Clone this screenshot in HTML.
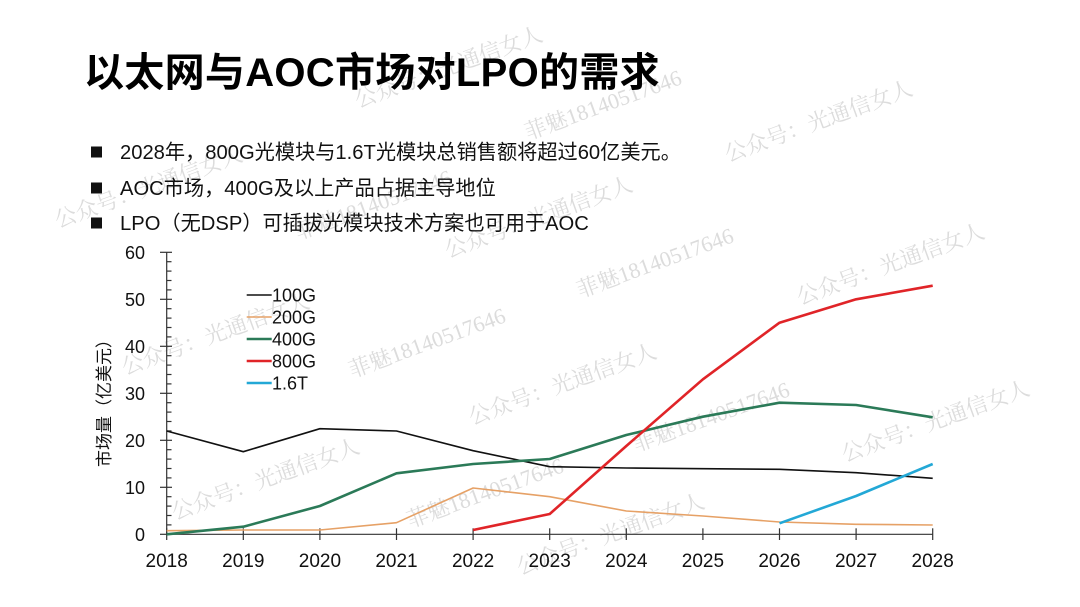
<!DOCTYPE html>
<html>
<head>
<meta charset="utf-8">
<style>
  html, body { margin: 0; padding: 0; background: #ffffff; }
  body { width: 1080px; height: 607px; overflow: hidden; }
  svg { display: block; }
  .wm { font-family: "Liberation Serif", "Noto Serif CJK SC", serif; font-size: 22px; fill: #dcdcdc; }
  .title { font-family: "Liberation Sans", "Noto Sans CJK SC", sans-serif; font-size: 40px; font-weight: 700; fill: #000; letter-spacing: 0.3px; }
  .bul { font-family: "Liberation Sans", "Noto Sans CJK SC", sans-serif; font-size: 20.2px; fill: #111; }
  .yt { font-family: "Liberation Sans", "Noto Sans CJK SC", sans-serif; font-size: 18px; fill: #111; text-anchor: end; }
  .xt { font-family: "Liberation Sans", "Noto Sans CJK SC", sans-serif; font-size: 19px; fill: #111; text-anchor: middle; }
  .lg { font-family: "Liberation Sans", "Noto Sans CJK SC", sans-serif; font-size: 18px; fill: #111; }
  .yl { font-family: "Liberation Sans", "Noto Sans CJK SC", sans-serif; font-size: 17px; fill: #111; text-anchor: middle; }
</style>
</head>
<body>
<svg width="1080" height="607" viewBox="0 0 1080 607" xmlns="http://www.w3.org/2000/svg">
  <rect width="1080" height="607" fill="#ffffff"/>

  <!-- watermarks -->
  <g class="wm">
    <text transform="translate(358,108) rotate(-20)">公众号：光通信女人</text>
    <text transform="translate(528,140) rotate(-20)">菲魅18140517646</text>
    <text transform="translate(728,162) rotate(-20)">公众号：光通信女人</text>
    <text transform="translate(58,228) rotate(-20)">公众号：光通信女人</text>
    <text transform="translate(298,240) rotate(-20)">菲魅18140517646</text>
    <text transform="translate(448,258) rotate(-20)">公众号：光通信女人</text>
    <text transform="translate(580,298) rotate(-20)">菲魅18140517646</text>
    <text transform="translate(800,305) rotate(-20)">公众号：光通信女人</text>
    <text transform="translate(125,375) rotate(-20)">公众号：光通信女人</text>
    <text transform="translate(352,378) rotate(-20)">菲魅18140517646</text>
    <text transform="translate(472,425) rotate(-20)">公众号：光通信女人</text>
    <text transform="translate(636,452) rotate(-20)">菲魅18140517646</text>
    <text transform="translate(845,462) rotate(-20)">公众号：光通信女人</text>
    <text transform="translate(175,520) rotate(-20)">公众号：光通信女人</text>
    <text transform="translate(410,528) rotate(-20)">菲魅18140517646</text>
    <text transform="translate(520,575) rotate(-20)">公众号：光通信女人</text>
  </g>

  <!-- title -->
  <text class="title" x="84" y="86">以太网与AOC市场对LPO的需求</text>

  <!-- bullets -->
  <rect x="91" y="146.5" width="11" height="11" fill="#111"/>
  <text class="bul" x="120" y="159">2028年，800G光模块与1.6T光模块总销售额将超过60亿美元。</text>
  <rect x="91" y="182.5" width="11" height="11" fill="#111"/>
  <text class="bul" x="120" y="195">AOC市场，400G及以上产品占据主导地位</text>
  <rect x="91" y="217.5" width="11" height="11" fill="#111"/>
  <text class="bul" x="120" y="230">LPO（无DSP）可插拔光模块技术方案也可用于AOC</text>

  <!-- axes -->
  <g stroke="#333" stroke-width="1.2" fill="none">
    <line x1="166.7" y1="252.3" x2="166.7" y2="534.3"/>
    <line x1="166.7" y1="534.3" x2="932.7" y2="534.3"/>
    <line x1="160" y1="252.3" x2="172" y2="252.3"/>
    <line x1="160" y1="299.3" x2="172" y2="299.3"/>
    <line x1="160" y1="346.3" x2="172" y2="346.3"/>
    <line x1="160" y1="393.3" x2="172" y2="393.3"/>
    <line x1="160" y1="440.3" x2="172" y2="440.3"/>
    <line x1="160" y1="487.3" x2="172" y2="487.3"/>
    <line x1="160" y1="534.3" x2="172" y2="534.3"/>
    <line x1="166.7" y1="261.7" x2="171.5" y2="261.7"/>
    <line x1="166.7" y1="271.1" x2="171.5" y2="271.1"/>
    <line x1="166.7" y1="280.5" x2="171.5" y2="280.5"/>
    <line x1="166.7" y1="289.9" x2="171.5" y2="289.9"/>
    <line x1="166.7" y1="308.7" x2="171.5" y2="308.7"/>
    <line x1="166.7" y1="318.1" x2="171.5" y2="318.1"/>
    <line x1="166.7" y1="327.5" x2="171.5" y2="327.5"/>
    <line x1="166.7" y1="336.9" x2="171.5" y2="336.9"/>
    <line x1="166.7" y1="355.7" x2="171.5" y2="355.7"/>
    <line x1="166.7" y1="365.1" x2="171.5" y2="365.1"/>
    <line x1="166.7" y1="374.5" x2="171.5" y2="374.5"/>
    <line x1="166.7" y1="383.9" x2="171.5" y2="383.9"/>
    <line x1="166.7" y1="402.7" x2="171.5" y2="402.7"/>
    <line x1="166.7" y1="412.1" x2="171.5" y2="412.1"/>
    <line x1="166.7" y1="421.5" x2="171.5" y2="421.5"/>
    <line x1="166.7" y1="430.9" x2="171.5" y2="430.9"/>
    <line x1="166.7" y1="449.7" x2="171.5" y2="449.7"/>
    <line x1="166.7" y1="459.1" x2="171.5" y2="459.1"/>
    <line x1="166.7" y1="468.5" x2="171.5" y2="468.5"/>
    <line x1="166.7" y1="477.9" x2="171.5" y2="477.9"/>
    <line x1="166.7" y1="496.7" x2="171.5" y2="496.7"/>
    <line x1="166.7" y1="506.1" x2="171.5" y2="506.1"/>
    <line x1="166.7" y1="515.5" x2="171.5" y2="515.5"/>
    <line x1="166.7" y1="524.9" x2="171.5" y2="524.9"/>
    <line x1="166.7" y1="528.3" x2="166.7" y2="540"/>
    <line x1="243.3" y1="528.3" x2="243.3" y2="540"/>
    <line x1="319.9" y1="528.3" x2="319.9" y2="540"/>
    <line x1="396.5" y1="528.3" x2="396.5" y2="540"/>
    <line x1="473.1" y1="528.3" x2="473.1" y2="540"/>
    <line x1="549.7" y1="528.3" x2="549.7" y2="540"/>
    <line x1="626.3" y1="528.3" x2="626.3" y2="540"/>
    <line x1="702.9" y1="528.3" x2="702.9" y2="540"/>
    <line x1="779.5" y1="528.3" x2="779.5" y2="540"/>
    <line x1="856.1" y1="528.3" x2="856.1" y2="540"/>
    <line x1="932.7" y1="528.3" x2="932.7" y2="540"/>
  </g>

  <!-- y tick labels -->
  <text class="yt" x="145" y="258.8">60</text>
  <text class="yt" x="145" y="305.8">50</text>
  <text class="yt" x="145" y="352.8">40</text>
  <text class="yt" x="145" y="399.8">30</text>
  <text class="yt" x="145" y="446.8">20</text>
  <text class="yt" x="145" y="493.8">10</text>
  <text class="yt" x="145" y="540.8">0</text>

  <!-- x tick labels -->
  <text class="xt" x="166.7" y="567">2018</text>
  <text class="xt" x="243.3" y="567">2019</text>
  <text class="xt" x="319.9" y="567">2020</text>
  <text class="xt" x="396.5" y="567">2021</text>
  <text class="xt" x="473.1" y="567">2022</text>
  <text class="xt" x="549.7" y="567">2023</text>
  <text class="xt" x="626.3" y="567">2024</text>
  <text class="xt" x="702.9" y="567">2025</text>
  <text class="xt" x="779.5" y="567">2026</text>
  <text class="xt" x="856.1" y="567">2027</text>
  <text class="xt" x="932.7" y="567">2028</text>

  <!-- y axis label -->
  <text class="yl" transform="translate(110,399) rotate(-90)">市场量（亿美元）</text>

  <!-- series -->
  <g fill="none" stroke-linejoin="round" stroke-linecap="butt">
    <polyline stroke="#e6a166" stroke-width="1.6"
      points="166.7,530.7 243.3,530 319.9,530 396.5,522.7 473.1,488 549.7,496.7 626.3,511 702.9,516 779.5,522 856.1,524.3 932.7,525"/>
    <polyline stroke="#111111" stroke-width="1.6"
      points="166.7,431 243.3,451.7 319.9,428.7 396.5,431 473.1,450.7 549.7,466.7 626.3,468 702.9,468.7 779.5,469.3 856.1,472.7 932.7,478.3"/>
    <polyline stroke="#2b7a58" stroke-width="2.6"
      points="166.7,534.3 243.3,526.7 319.9,506 396.5,473.3 473.1,464 549.7,459 626.3,435 702.9,416.7 779.5,402.7 856.1,405 932.7,417.3"/>
    <polyline stroke="#e02428" stroke-width="2.6"
      points="473.1,530 549.7,514 626.3,446 702.9,379.3 779.5,322.7 856.1,299.3 932.7,285.7"/>
    <polyline stroke="#23a8d6" stroke-width="2.6"
      points="779.5,523.3 856.1,496 932.7,464"/>
  </g>

  <!-- legend -->
  <g>
    <line x1="246.7" y1="295" x2="271.7" y2="295" stroke="#111111" stroke-width="1.6"/>
    <line x1="246.7" y1="317" x2="271.7" y2="317" stroke="#e6a166" stroke-width="1.6"/>
    <line x1="246.7" y1="339" x2="271.7" y2="339" stroke="#2b7a58" stroke-width="2.6"/>
    <line x1="246.7" y1="361" x2="271.7" y2="361" stroke="#e02428" stroke-width="2.6"/>
    <line x1="246.7" y1="383" x2="271.7" y2="383" stroke="#23a8d6" stroke-width="2.6"/>
  </g>
  <text class="lg" x="272" y="301.5">100G</text>
  <text class="lg" x="272" y="323.5">200G</text>
  <text class="lg" x="272" y="345.5">400G</text>
  <text class="lg" x="272" y="367.5">800G</text>
  <text class="lg" x="272" y="389.5">1.6T</text>
</svg>
</body>
</html>
